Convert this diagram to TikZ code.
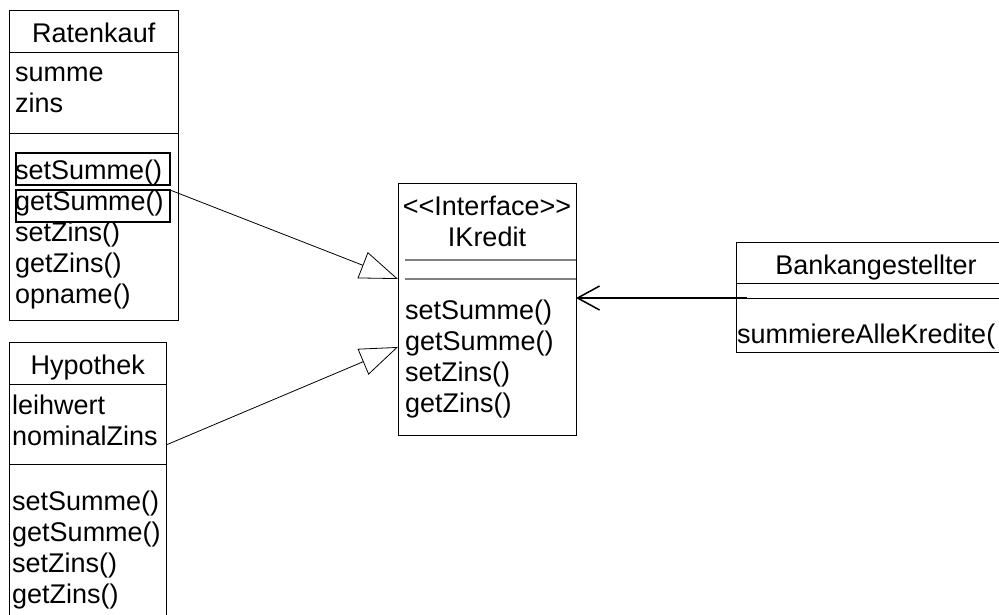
\documentclass[tikz,border=0pt]{standalone}
\usepackage{fontspec}
\setmainfont{Liberation Sans}
\usepackage{tikz}
\usetikzlibrary{arrows.meta,positioning}

\begin{document}
\begin{tikzpicture}[x=1pt, y=-1pt, font=\fontsize{27pt}{31pt}\selectfont,
  part/.style={draw, line width=1pt, anchor=north west, inner sep=0pt, outer sep=0pt},
  head/.style={part, text height=23pt, text depth=0pt},
  member/.style={anchor=base west, inner sep=0pt},
  selbox/.style={draw, line width=2pt, anchor=north west, inner sep=0pt, outer sep=0pt},
  sepline/.style={draw=gray, line width=2pt},
  realizes/.style={-{Triangle[open, length=38pt, width=28pt]}, line width=0.8pt},
  uses/.style={-{Straight Barb[length=22pt, width=24pt]}, line width=1.5pt}]
  \useasboundingbox (0,0) rectangle (999,614);
  \clip (0,0) rectangle (999,614);

  % Ratenkauf
  \node[head, minimum width=168.5pt, minimum height=42pt] (rkHead) at (9.5,10) {Ratenkauf};
  \node[part, minimum width=168.5pt, minimum height=81pt, below=0pt of rkHead] (rkAttr) {};
  \node[part, minimum width=168.5pt, minimum height=187pt, below=0pt of rkAttr] (rkOps) {};
  \foreach \m [count=\i] in {summe, zins}
    \node[member] (rkA\i) at (15, 50+31*\i) {\m};
  \foreach \m [count=\i] in {setSumme(), getSumme(), setZins(), getZins(), opname()}
    \node[member] (rkO\i) at (15, 148+31*\i) {\m};
  \node[selbox, minimum width=154.5pt, minimum height=32pt] (rkSel1) at (15.5,153) {};
  \node[selbox, minimum width=154.5pt, minimum height=32pt] (rkSel2) at (15.5,190) {};

  % Hypothek
  \node[head, minimum width=156.5pt, minimum height=42pt] (hyHead) at (9.5,342) {Hypothek};
  \node[part, minimum width=156.5pt, minimum height=80pt, below=0pt of hyHead] (hyAttr) {};
  \node[part, minimum width=156.5pt, minimum height=200pt, below=0pt of hyAttr] (hyOps) {};
  \foreach \m [count=\i] in {leihwert, nominalZins}
    \node[member] (hyA\i) at (12, 383+31*\i) {\m};
  \foreach \m [count=\i] in {setSumme(), getSumme(), setZins(), getZins()}
    \node[member] (hyO\i) at (12, 479+31*\i) {\m};

  % IKredit
  \node[part, minimum width=178pt, minimum height=252pt] (ik) at (398,183) {};
  \node[anchor=north west, inner sep=0pt, outer sep=0pt, minimum width=178pt, minimum height=77pt,
    align=center] (ikHead) at (ik.north west) {<{}<Interface>{}>\\IKredit};
  \node[inner sep=0pt, outer sep=0pt, minimum width=178pt, minimum height=19pt,
    below=0pt of ikHead] (ikAttr) {};
  \draw[sepline] ([xshift=7pt]ikAttr.north west) -- (ikAttr.north east);
  \draw[sepline] ([xshift=7pt]ikAttr.south west) -- (ikAttr.south east);
  \foreach \m [count=\i] in {setSumme(), getSumme(), setZins(), getZins()}
    \node[member] (ikO\i) at (405, 288+31*\i) {\m};
  \coordinate[yshift=3pt] (ikIn) at (ik.west |- ikO2.base);

  % Bankangestellter
  \node[head, minimum width=280pt, minimum height=41pt] (bkHead) at (736,242) {Bankangestellter};
  \node[part, minimum width=280pt, minimum height=15pt, below=0pt of bkHead] (bkAttr) {};
  \node[part, minimum width=280pt, minimum height=54pt, below=0pt of bkAttr] (bkOps) {};
  \node[member] (bkO1) at (737,343) {summiereAlleKredite(};

  % connectors
  \draw[realizes] (rkSel2.north east) -- (ikAttr.south west);
  \draw[realizes] (hyAttr.east |- hyA2.base) -- (ikIn);
  \draw[uses] ([xshift=11pt]bkAttr.south west) -- (ik.east |- bkAttr.south);
\end{tikzpicture}
\end{document}
